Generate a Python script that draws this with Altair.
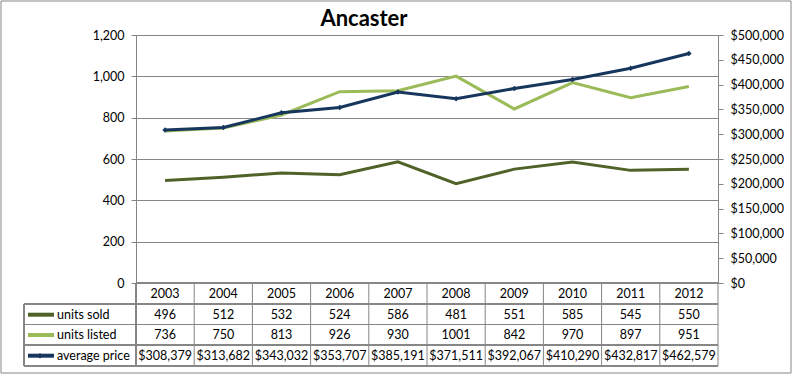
import altair as alt
import pandas as pd

years = ["2003", "2004", "2005", "2006", "2007", "2008", "2009", "2010", "2011", "2012"]
units_sold = [496, 512, 532, 524, 586, 481, 551, 585, 545, 550]
units_listed = [736, 750, 813, 926, 930, 1001, 842, 970, 897, 951]
avg_price = [308379, 313682, 343032, 353707, 385191, 371511, 392067, 410290, 432817, 462579]

series_names = ["units sold", "units listed", "average price"]
series_colors = ["#4F6228", "#9BBB59", "#17365D"]
left_ticks = [0, 200, 400, 600, 800, 1000, 1200]
right_ticks = list(range(0, 500001, 50000))

df = pd.DataFrame({
    "year": years,
    "units sold": units_sold,
    "units listed": units_listed,
    "price": avg_price,
    "sold_txt": [str(v) for v in units_sold],
    "listed_txt": [str(v) for v in units_listed],
    "price_txt": ["${:,}".format(v) for v in avg_price],
})

W, H = 582, 248
STEP = W / len(years)
FONT = "Lato"
FS = 12.5
GRAY = "#868686"

xenc = alt.X("year:N", scale=alt.Scale(type="point", padding=0.5), axis=None)
base = alt.Chart(df)

units = base.transform_fold(["units sold", "units listed"], as_=["series", "value"]).mark_line(
    strokeWidth=3
).encode(
    x=xenc,
    y=alt.Y("value:Q", scale=alt.Scale(domain=[0, 1200]),
            axis=alt.Axis(values=left_ticks, format=",d", title=None, grid=True,
                          gridColor=GRAY, domainColor=GRAY, tickColor=GRAY,
                          tickSize=5, labelPadding=7, labelFont=FONT, labelFontSize=FS,
                          labelColor="#000000")),
    color=alt.Color("series:N", scale=alt.Scale(domain=series_names[:2], range=series_colors[:2]), legend=None),
    detail="series:N",
)

price = base.mark_line(strokeWidth=3, color=series_colors[2],
                       point=alt.OverlayMarkDef(shape="diamond", size=30, color=series_colors[2], filled=True)).encode(
    x=xenc,
    y=alt.Y("price:Q", scale=alt.Scale(domain=[0, 500000]),
            axis=alt.Axis(orient="right", values=right_ticks, format="$,d", title=None, grid=False,
                          domainColor=GRAY, tickColor=GRAY, tickSize=5, labelPadding=7,
                          labelFont=FONT, labelFontSize=FS, labelColor="#000000")),
)

# table text rows
row_y = [259, 279.7, 300, 320.7]
def text_row(field, yv):
    return base.mark_text(font=FONT, fontSize=FS, color="#000000", baseline="middle").encode(
        x=xenc, y=alt.value(yv), text=f"{field}:N")

t_year = text_row("year", row_y[0])
t_sold = text_row("sold_txt", row_y[1])
t_list = text_row("listed_txt", row_y[2])
t_price = text_row("price_txt", row_y[3])

# table grid
vlines = base.mark_rule(color=GRAY, strokeWidth=1).encode(
    x=xenc, xOffset=alt.value(STEP / 2), y=alt.value(H), y2=alt.value(H + 83))
vleft = alt.Chart(df).mark_rule(color=GRAY).encode(x=alt.value(0), y=alt.value(H), y2=alt.value(H + 83))
vouter = alt.Chart(df).mark_rule(color=GRAY).encode(x=alt.value(-112), y=alt.value(H + 21), y2=alt.value(H + 83))
hlines = [alt.Chart(df).mark_rule(color=GRAY).encode(x=alt.value(x0), x2=alt.value(W), y=alt.value(yy))
          for x0, yy in [(0, H), (-112, H + 21), (-112, H + 41.5), (-112, H + 62), (-112, H + 83)]]

# legend keys inside table
leg_df = pd.DataFrame({"name": series_names, "ypos": row_y[1:], "color": series_colors})
leg_lines = alt.Chart(leg_df).mark_rule(strokeWidth=4).encode(
    x=alt.value(-108), x2=alt.value(-82), y=alt.Y("ypos:Q", scale=None),
    color=alt.Color("color:N", scale=None))
leg_marker = alt.Chart(leg_df).transform_filter(alt.datum.name == "average price").mark_point(
    shape="diamond", size=30, filled=True, opacity=1).encode(
    x=alt.value(-96), y=alt.Y("ypos:Q", scale=None), color=alt.Color("color:N", scale=None))
leg_text = alt.Chart(leg_df).mark_text(font=FONT, fontSize=FS, align="left", baseline="middle", color="#000000").encode(
    x=alt.value(-79), y=alt.Y("ypos:Q", scale=None), text="name:N")

title = alt.Chart(pd.DataFrame({"t": ["Ancaster"]})).mark_text(
    font=FONT, fontSize=22, fontWeight="bold", align="center", baseline="alphabetic", color="#000000").encode(
    x=alt.value(228), y=alt.value(-9), text="t:N")

border = alt.Chart(pd.DataFrame({"a": [0]})).mark_rect(fill=None, stroke=GRAY, strokeWidth=1).encode(
    x=alt.value(-135), x2=alt.value(655), y=alt.value(-34), y2=alt.value(338))

chart = alt.layer(
    border, units, price, t_year, t_sold, t_list, t_price, vlines, vleft, vouter, *hlines,
    leg_lines, leg_marker, leg_text, title
).resolve_scale(y="independent").properties(
    width=W, height=H,
    autosize=alt.AutoSizeParams(type="none"),
    padding={"left": 136, "top": 35, "right": 75, "bottom": 92},
).configure_view(stroke=None).configure(background="#FFFFFF")

chart.save("out.html", embed_options={"renderer": "svg", "actions": False})
